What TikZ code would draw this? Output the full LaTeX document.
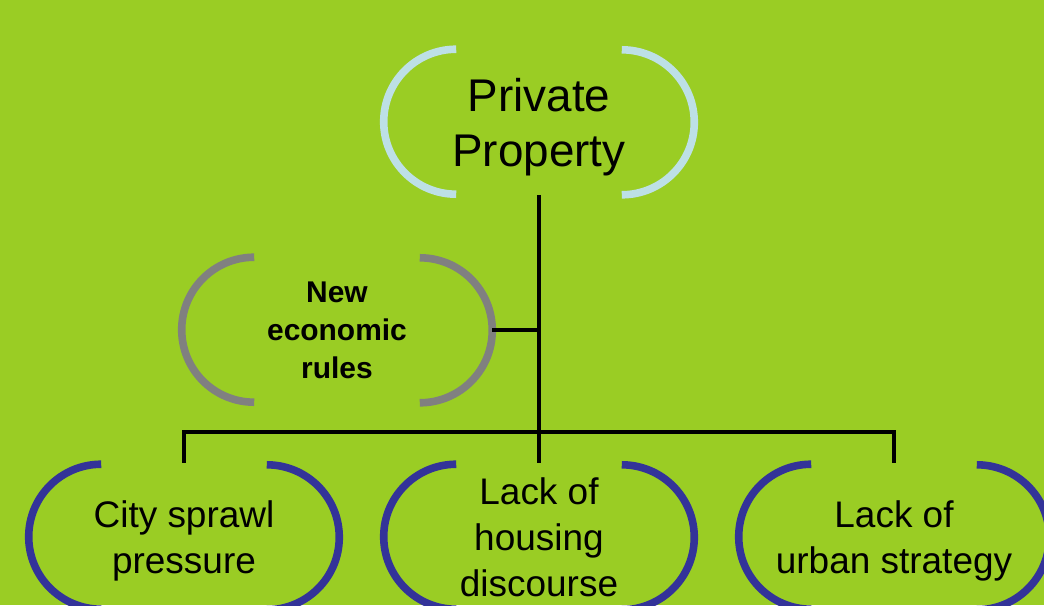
\documentclass[tikz,border=0pt]{standalone}
\usepackage{fontspec}
\setmainfont{Liberation Sans}
\usetikzlibrary{positioning}
\definecolor{leaf}{RGB}{154,205,36}
\definecolor{paleblue}{RGB}{189,224,230}
\definecolor{midgray}{RGB}{128,128,128}
\definecolor{navy}{RGB}{51,51,153}

\begin{document}
\begin{tikzpicture}
	[on grid, node distance=5cm,
	 box/.style={minimum width=7.75cm, minimum height=3.625cm, inner sep=0pt, align=center},
	 topfont/.style={font=\fontsize{32.6}{39}\selectfont, text depth=0pt},
	 lowfont/.style={font=\fontsize{26.3}{32.5}\selectfont, text depth=0pt},
	 midfont/.style={font=\bfseries\fontsize{21.3}{27}\selectfont},
	 conn/.style={draw=black, line width=2.5pt}]
   \useasboundingbox (-13.475,3.05) rectangle (12.625,-12.075);
   \fill[leaf] (-13.475,3.05) rectangle (12.625,-12.075);
   \node[box, topfont] (pp) {Private\\Property};
   \node[box, midfont] (ner) [below left=5.2cm and 5.05cm of pp] {New\\economic\\rules};
   \node[box, lowfont] (hd) [below=10.375cm of pp] {Lack of\\housing\\discourse};
   \node[box, lowfont] (cs) [left=8.875cm of hd] {City sprawl\\pressure};
   \node[box, lowfont] (us) [right=8.875cm of hd] {Lack of\\urban strategy};
   % brackets round each box
   \foreach \n/\c in {pp/paleblue, ner/midgray, hd/navy, cs/navy, us/navy}
   {
     \draw[\c, line width=5.4pt] ([xshift=1.8125cm]\n.north west) arc[start angle=90, end angle=270, radius=1.8125cm];
     \draw[\c, line width=5.4pt] ([xshift=-1.8125cm]\n.south east) arc[start angle=-90, end angle=90, radius=1.8125cm];
   }
   \draw[conn] (pp.south) -- ([yshift=1pt]hd.north);
   \draw[conn] ([yshift=1pt]cs.north) |- ([yshift=0.8cm]hd.north) -| ([yshift=1pt]us.north);
   \draw[conn] (ner.east) -- (ner.east -| pp.south);
\end{tikzpicture}
\end{document}
